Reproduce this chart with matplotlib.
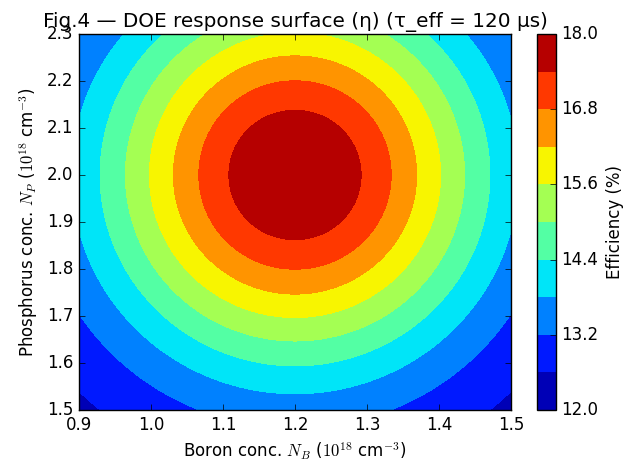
import numpy as np
import matplotlib.pyplot as plt

plt.style.use('classic')

# DOE design window (10^18 cm^-3)
boron_lim = [0.9, 1.5]
phos_lim = [1.5, 2.3]

# fitted response model: eta = base + gain * exp(-0.5 * (dB^2/sB^2 + dP^2/sP^2))
eta_base = 12.0
eta_gain = 6.0
boron_opt = 1.2
phos_opt = 2.0
boron_width = 0.2
phos_width = 0.3

levels = np.linspace(12.0, 18.0, 11)
cbar_ticks = [12.0, 13.2, 14.4, 15.6, 16.8, 18.0]
xticks = [0.9, 1.0, 1.1, 1.2, 1.3, 1.4, 1.5]
yticks = [1.5, 1.6, 1.7, 1.8, 1.9, 2.0, 2.1, 2.2, 2.3]

nb = np.linspace(boron_lim[0], boron_lim[1], 301)
npp = np.linspace(phos_lim[0], phos_lim[1], 301)
B, P = np.meshgrid(nb, npp)
eta = eta_base + eta_gain * np.exp(-0.5 * (((B - boron_opt) / boron_width) ** 2
                                           + ((P - phos_opt) / phos_width) ** 2))
eta = np.clip(eta, 12.0, 18.0)

fig = plt.figure(figsize=(6.41, 4.65), dpi=100, facecolor='white')
ax = fig.add_axes([79 / 641, 55 / 465, 432 / 641, 376 / 465])
cax = fig.add_axes([537 / 641, 55 / 465, 19 / 641, 376 / 465])

cs = ax.contourf(B, P, eta, levels=levels, cmap='jet')
ax.set_xlim(boron_lim)
ax.set_ylim(phos_lim)
ax.set_xticks(xticks)
ax.set_yticks(yticks)
ax.set_xticklabels(['%.1f' % v for v in xticks])
ax.set_yticklabels(['%.1f' % v for v in yticks])
ax.set_xlabel(r'Boron conc. $N_B$ ($10^{18}$ cm$^{-3}$)')
ax.set_ylabel(r'Phosphorus conc. $N_P$ ($10^{18}$ cm$^{-3}$)')
ax.set_title('Fig.4 — DOE response surface (η) (τ_eff = 120 μs)')

cb = fig.colorbar(cs, cax=cax, ticks=cbar_ticks)
cb.ax.set_yticklabels(['%.1f' % v for v in cbar_ticks])
cb.set_label('Efficiency (%)')

fig.savefig('out.png', dpi=100, facecolor='white')
